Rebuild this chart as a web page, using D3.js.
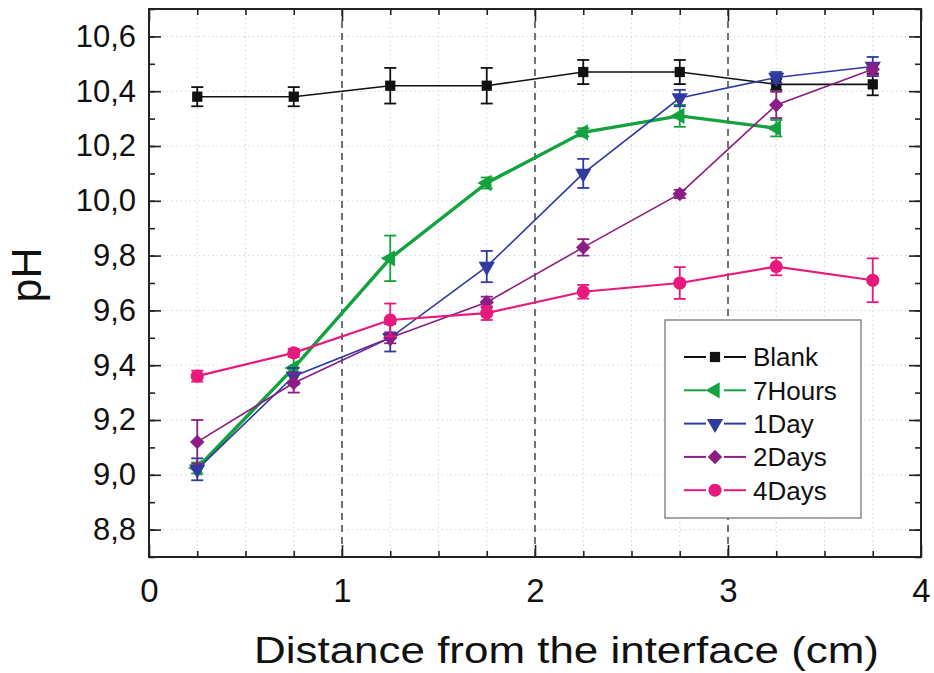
<!DOCTYPE html>
<html>
<head>
<meta charset="utf-8">
<script src="https://cdn.jsdelivr.net/npm/d3@7"></script>
<style>
  body { margin: 0; background: #fff; }
  svg { display: block; font-family: "Liberation Sans", Arial, sans-serif; }
</style>
</head>
<body>
<svg id="chart"></svg>
<script>
// distance positions (cm)
var distances = [0.25, 0.75, 1.25, 1.75, 2.25, 2.75, 3.25, 3.75];

var blankPH = [10.38, 10.38, 10.42, 10.42, 10.47, 10.47, 10.425, 10.425];
var blankErr = [0.035, 0.035, 0.065, 0.065, 0.044, 0.044, 0.02, 0.04];

var hours7PH = [9.025, 9.39, 9.79, 10.065, 10.25, 10.31, 10.265];
var hours7Err = [0.02, 0.05, 0.083, 0.02, 0.015, 0.04, 0.03];

var day1PH = [9.02, 9.36, 9.5, 9.76, 10.1, 10.375, 10.45, 10.49];
var day1Err = [0.04, 0.03, 0.05, 0.057, 0.053, 0.03, 0.02, 0.035];

var days2PH = [9.12, 9.335, 9.5, 9.63, 9.83, 10.025, 10.35, 10.48];
var days2Err = [0.08, 0.035, 0.02, 0.02, 0.03, 0.015, 0.048, 0.02];

var days4PH = [9.36, 9.445, 9.565, 9.59, 9.668, 9.7, 9.76, 9.71];
var days4Err = [0.02, 0.015, 0.06, 0.025, 0.025, 0.058, 0.032, 0.08];

var seriesNames = ["Blank", "7Hours", "1Day", "2Days", "4Days"];
var yTicks = [8.8, 9.0, 9.2, 9.4, 9.6, 9.8, 10.0, 10.2, 10.4, 10.6];
var xTicks = [0, 1, 2, 3, 4];

var width = 934, height = 673;
var margins = { left: 149, right: 13, top: 9, bottom: 116 };

var svg = d3.select("svg#chart").attr("width", width).attr("height", height);

var xScale = d3.scaleLinear().domain([0, 4]).range([margins.left, width - margins.right]);
var yScale = d3.scaleLinear().domain([8.7, 10.7]).range([height - margins.bottom, margins.top]);

var x0 = xScale.range()[0], x1 = xScale.range()[1];
var yBot = yScale.range()[0], yTop = yScale.range()[1];

var series = [
  { name: seriesNames[0], ph: blankPH, err: blankErr, color: "#111111", lw: 1.6, symbol: d3.symbolSquare, size: 105, rot: 0 },
  { name: seriesNames[1], ph: hours7PH, err: hours7Err, color: "#13a23f", lw: 3.4, symbol: d3.symbolTriangle, size: 115, rot: -90 },
  { name: seriesNames[2], ph: day1PH, err: day1Err, color: "#2f3b9e", lw: 1.6, symbol: d3.symbolTriangle, size: 115, rot: 180 },
  { name: seriesNames[3], ph: days2PH, err: days2Err, color: "#8c1d84", lw: 1.6, symbol: d3.symbolSquare, size: 105, rot: 45 },
  { name: seriesNames[4], ph: days4PH, err: days4Err, color: "#e8197c", lw: 2.2, symbol: d3.symbolCircle, size: 135, rot: 0 }
];

// grid
var minorX = d3.range(0.25, 4, 0.25).filter(d => Math.abs(d - Math.round(d)) > 0.01);
var grid = svg.append("g").attr("id", "grid");
grid.selectAll("line.vg")
  .data(minorX)
  .join("line")
  .attr("class", "vg")
  .attr("x1", d => xScale(d)).attr("x2", d => xScale(d))
  .attr("y1", yTop).attr("y2", yBot)
  .attr("stroke", "#d4d4d4").attr("stroke-width", 1)
  .attr("stroke-dasharray", "1.5 3");
grid.selectAll("line.hg")
  .data(yTicks)
  .join("line")
  .attr("class", "hg")
  .attr("x1", x0).attr("x2", x1)
  .attr("y1", d => yScale(d)).attr("y2", d => yScale(d))
  .attr("stroke", "#d4d4d4").attr("stroke-width", 1)
  .attr("stroke-dasharray", "1.5 3");
grid.selectAll("line.dash")
  .data([1, 2, 3])
  .join("line")
  .attr("class", "dash")
  .attr("x1", d => xScale(d)).attr("x2", d => xScale(d))
  .attr("y1", yTop).attr("y2", yBot)
  .attr("stroke", "#444").attr("stroke-width", 1.5)
  .attr("stroke-dasharray", "7 5");

// axes with inward ticks
function styleAxis(g) {
  g.select(".domain").remove();
  g.selectAll(".tick line").attr("stroke", "#222").attr("stroke-width", 1.6);
}
var minorY = d3.range(8.7, 10.71, 0.1).map(d => +d.toFixed(1));
var fmtY = d => d3.format(".1f")(d).replace(".", ",");

svg.append("g").attr("transform", `translate(${x0},0)`)
  .call(d3.axisLeft(yScale).tickValues(minorY).tickSize(-6).tickFormat(""))
  .call(styleAxis);
svg.append("g").attr("transform", `translate(${x0},0)`)
  .call(d3.axisLeft(yScale).tickValues(yTicks).tickSize(-12).tickPadding(13).tickFormat(fmtY))
  .call(styleAxis)
  .selectAll("text").attr("font-size", 31).attr("fill", "#111").attr("font-family", "Liberation Sans, Arial, sans-serif");
svg.append("g").attr("transform", `translate(${x1},0)`)
  .call(d3.axisRight(yScale).tickValues(minorY).tickSize(-6).tickFormat(""))
  .call(styleAxis);
svg.append("g").attr("transform", `translate(${x1},0)`)
  .call(d3.axisRight(yScale).tickValues(yTicks).tickSize(-12).tickFormat(""))
  .call(styleAxis);

svg.append("g").attr("transform", `translate(0,${yBot})`)
  .call(d3.axisBottom(xScale).tickValues(minorX).tickSize(-6).tickFormat(""))
  .call(styleAxis);
svg.append("g").attr("transform", `translate(0,${yBot})`)
  .call(d3.axisBottom(xScale).tickValues(xTicks).tickSize(-12).tickPadding(22).tickFormat(d3.format("d")))
  .call(styleAxis)
  .selectAll("text").attr("font-size", 33).attr("fill", "#111").attr("font-family", "Liberation Sans, Arial, sans-serif");
svg.append("g").attr("transform", `translate(0,${yTop})`)
  .call(d3.axisTop(xScale).tickValues(minorX).tickSize(-6).tickFormat(""))
  .call(styleAxis);
svg.append("g").attr("transform", `translate(0,${yTop})`)
  .call(d3.axisTop(xScale).tickValues(xTicks).tickSize(-12).tickFormat(""))
  .call(styleAxis);

// frame
svg.append("rect")
  .attr("x", x0).attr("y", yTop)
  .attr("width", x1 - x0).attr("height", yBot - yTop)
  .attr("fill", "none").attr("stroke", "#222").attr("stroke-width", 2);

// series
var line = d3.line().x(d => xScale(d.x)).y(d => yScale(d.y));
var plot = svg.append("g").attr("id", "series");
series.forEach(s => {
  var pts = s.ph.map((v, i) => ({ x: distances[i], y: v, e: s.err[i] }));
  var g = plot.append("g").attr("class", s.name);
  g.append("path")
    .attr("d", line(pts))
    .attr("fill", "none")
    .attr("stroke", s.color)
    .attr("stroke-width", s.lw);
  var eb = g.selectAll("g.err").data(pts).join("g").attr("class", "err")
    .attr("stroke", s.color).attr("stroke-width", 1.8);
  eb.append("line")
    .attr("x1", d => xScale(d.x)).attr("x2", d => xScale(d.x))
    .attr("y1", d => yScale(d.y - d.e)).attr("y2", d => yScale(d.y + d.e));
  eb.append("line")
    .attr("x1", d => xScale(d.x) - 6).attr("x2", d => xScale(d.x) + 6)
    .attr("y1", d => yScale(d.y - d.e)).attr("y2", d => yScale(d.y - d.e));
  eb.append("line")
    .attr("x1", d => xScale(d.x) - 6).attr("x2", d => xScale(d.x) + 6)
    .attr("y1", d => yScale(d.y + d.e)).attr("y2", d => yScale(d.y + d.e));
  g.selectAll("path.mk").data(pts).join("path")
    .attr("class", "mk")
    .attr("d", d3.symbol().type(s.symbol).size(s.size))
    .attr("transform", d => `translate(${xScale(d.x)},${yScale(d.y)}) rotate(${s.rot})`)
    .attr("fill", s.color);
});

// legend
var legend = svg.append("g").attr("id", "legend").attr("transform", "translate(665,320)");
legend.append("rect")
  .attr("width", 196).attr("height", 198)
  .attr("fill", "#fff").attr("stroke", "#777").attr("stroke-width", 1.3);
var rows = legend.selectAll("g.row").data(series).join("g")
  .attr("class", "row")
  .attr("transform", (d, i) => `translate(0,${37 + i * 33.3})`);
rows.append("line").attr("x1", 19).attr("x2", 41).attr("y1", 0).attr("y2", 0)
  .attr("stroke", d => d.color).attr("stroke-width", 2);
rows.append("line").attr("x1", 59).attr("x2", 81).attr("y1", 0).attr("y2", 0)
  .attr("stroke", d => d.color).attr("stroke-width", 2);
rows.append("path")
  .attr("d", d => d3.symbol().type(d.symbol).size(d.size)())
  .attr("transform", d => `translate(50,0) rotate(${d.rot})`)
  .attr("fill", d => d.color);
rows.append("text")
  .attr("x", 88).attr("y", 0).attr("dy", "0.36em")
  .attr("font-size", 26).attr("fill", "#111")
  .text(d => d.name);

// axis titles
svg.append("text")
  .attr("x", 566.5).attr("y", 663)
  .attr("text-anchor", "middle")
  .attr("font-size", 37).attr("fill", "#111")
  .attr("textLength", 625).attr("lengthAdjust", "spacingAndGlyphs")
  .text("Distance from the interface (cm)");
svg.append("text")
  .attr("transform", "translate(41,275) rotate(-90)")
  .attr("text-anchor", "middle")
  .attr("font-size", 43).attr("fill", "#111")
  .text("pH");
</script>
</body>
</html>
